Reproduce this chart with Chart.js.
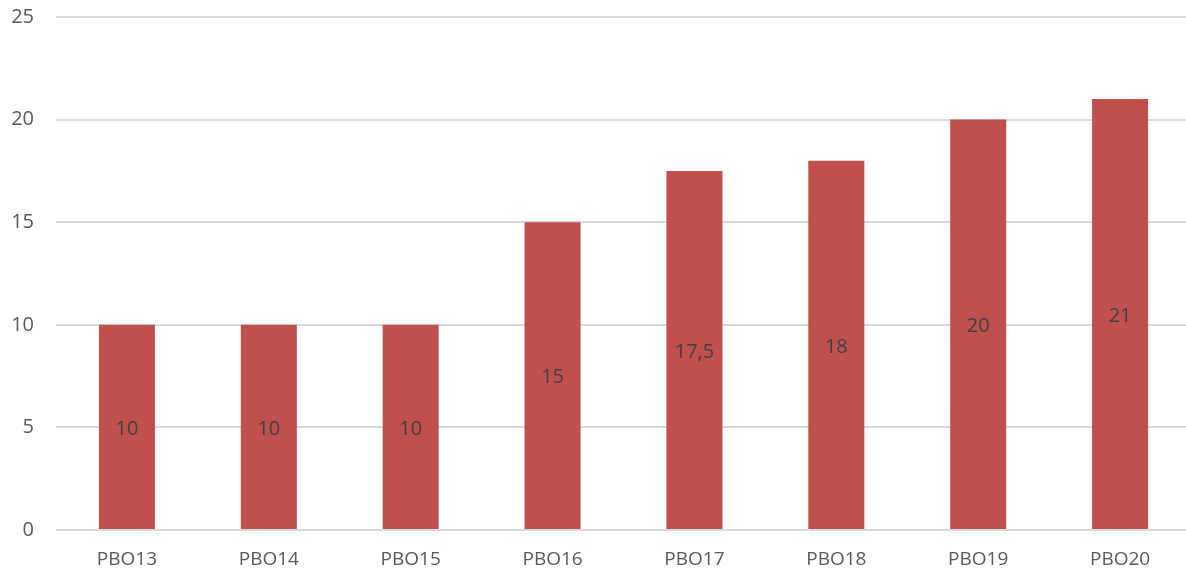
<!DOCTYPE html>
<html>
<head>
<meta charset="utf-8">
<script src="https://cdn.jsdelivr.net/npm/chart.js@4/dist/chart.umd.min.js"></script>
<style>
    html, body { margin: 0; padding: 0; background: #fff; overflow: hidden; }
    #wrap { width: 1191px; height: 573px; position: relative; }
</style>
</head>
<body>
<div id="wrap"><canvas id="barChart"></canvas></div>
<script>
// Chart data
const categories = ['PBO13', 'PBO14', 'PBO15', 'PBO16', 'PBO17', 'PBO18', 'PBO19', 'PBO20'];
const values = [10, 10, 10, 15, 17.5, 18, 20, 21];
const yTicks = [0, 5, 10, 15, 20, 25];

const textColor = '#595959';
const fontFamily = '"Open Sans", "Liberation Sans", sans-serif';

// Draw value labels in the middle of each bar (comma decimals)
const centerLabels = {
    id: 'centerLabels',
    afterDatasetsDraw(chart) {
        const ctx = chart.ctx;
        const meta = chart.getDatasetMeta(0);
        ctx.save();
        ctx.fillStyle = '#404040';
        ctx.font = '20px ' + fontFamily;
        ctx.textAlign = 'center';
        ctx.textBaseline = 'middle';
        meta.data.forEach((bar, i) => {
            const label = String(values[i]).replace('.', ',');
            ctx.fillText(label, bar.x, (bar.y + bar.base) / 2 + 2);
        });
        ctx.restore();
    }
};

function renderBarChart() {
    const canvas = document.getElementById('barChart');
    new Chart(canvas, {
        type: 'bar',
        data: {
            labels: categories,
            datasets: [{
                data: values,
                backgroundColor: '#c0504d',
                borderWidth: 0,
                barPercentage: 0.395,
                categoryPercentage: 1
            }]
        },
        options: {
            responsive: true,
            maintainAspectRatio: false,
            animation: false,
            layout: { padding: { top: 17, left: 0, right: 0, bottom: 0 } },
            plugins: { legend: { display: false }, tooltip: { enabled: false } },
            scales: {
                y: {
                    min: 0,
                    max: 25,
                    afterBuildTicks: scale => { scale.ticks = yTicks.map(v => ({ value: v })); },
                    afterFit: scale => {
                        scale.width = 56;
                        scale.paddingTop = 0;
                        scale.paddingBottom = 0;
                    },
                    ticks: { color: textColor, font: { family: fontFamily, size: 20 }, padding: 22 },
                    grid: { color: '#d9d9d9', lineWidth: 2, drawTicks: false },
                    border: { display: false }
                },
                x: {
                    afterFit: scale => { scale.height = 43; },
                    ticks: { color: textColor, font: { family: fontFamily, size: 19 }, padding: 18 },
                    grid: { display: false, drawTicks: false },
                    border: { display: false }
                }
            }
        },
        plugins: [centerLabels]
    });
}

renderBarChart();
</script>
</body>
</html>
